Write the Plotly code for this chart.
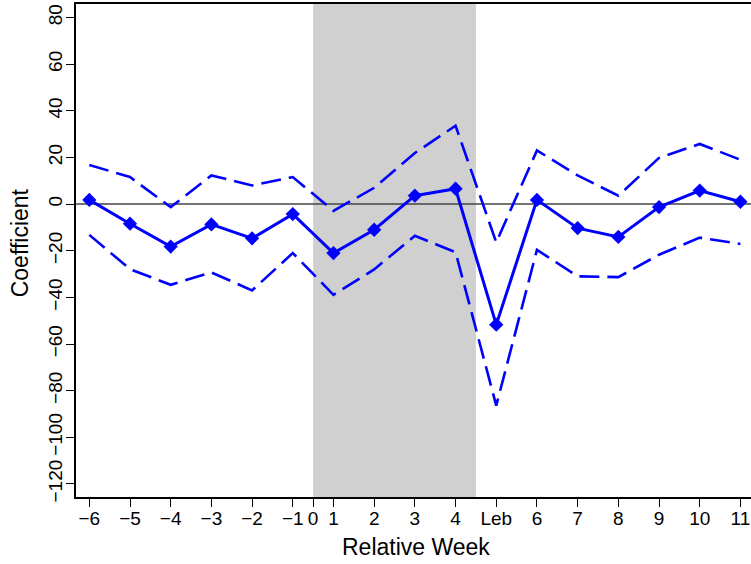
import plotly.graph_objects as go

# ---- data ----
week_labels = ["\u22126", "\u22125", "\u22124", "\u22123", "\u22122", "\u22121",
               "1", "2", "3", "4", "Leb", "6", "7", "8", "9", "10", "11"]
coef = [1.8, -8.4, -18.2, -8.7, -14.7, -4.3, -21.0, -11.0, 3.6, 6.6,
        -51.7, 1.8, -10.3, -14.1, -1.3, 5.8, 1.0]
upper = [16.8, 11.6, -1.3, 12.3, 8.0, 11.6, -2.9, 7.0, 21.9, 33.6,
         -16.4, 23.0, 12.3, 3.6, 19.8, 25.8, 19.0]
lower = [-13.2, -27.9, -34.6, -29.3, -37.0, -21.0, -38.9, -28.0, -13.6, -20.6,
         -86.4, -19.6, -31.0, -31.3, -21.7, -14.4, -17.1]
zero_tick_label = "0"
zero_tick_pos = 5.5          # between week -1 and week 1
shade_start, shade_end = 5.5, 9.5
y_ticks = [-120, -100, -80, -60, -40, -20, 0, 20, 40, 60, 80]

x = list(range(len(week_labels)))

BLUE = "#0000FF"
FONT = "Liberation Sans, Arial, Helvetica, sans-serif"

fig = go.Figure()
fig.add_trace(go.Scatter(x=x, y=upper, mode="lines",
                         line=dict(color=BLUE, width=2.6, dash="20px,8px"),
                         hoverinfo="skip", showlegend=False))
fig.add_trace(go.Scatter(x=x, y=lower, mode="lines",
                         line=dict(color=BLUE, width=2.6, dash="20px,8px"),
                         hoverinfo="skip", showlegend=False))
fig.add_trace(go.Scatter(x=x, y=coef, mode="lines+markers",
                         line=dict(color=BLUE, width=3),
                         marker=dict(symbol="diamond", size=11, color=BLUE),
                         showlegend=False))

# shaded period and zero line
fig.add_shape(type="rect", xref="x", yref="paper", x0=shade_start, x1=shade_end,
              y0=0, y1=1, fillcolor="#D0D0D0", line=dict(width=0), layer="below")
fig.add_shape(type="line", xref="paper", yref="y", x0=0, x1=1, y0=0, y1=0,
              line=dict(color="#444444", width=1.5), layer="below")

tickvals = x[:6] + [zero_tick_pos] + x[6:]
ticktext = week_labels[:6] + [zero_tick_label] + week_labels[6:]

fig.update_layout(
    width=751, height=564,
    margin=dict(l=76, r=0, t=4, b=67),
    paper_bgcolor="white", plot_bgcolor="white",
    font=dict(family=FONT, color="black", size=19),
    xaxis=dict(range=[-0.327, 16.26], tickvals=tickvals, ticktext=ticktext,
               showgrid=False, zeroline=False, showline=True, mirror=True,
               linecolor="black", linewidth=1.5, ticks="outside", ticklen=8,
               tickwidth=1.3, tickcolor="black", tickangle=0,
               ticklabelstandoff=-5,
               tickfont=dict(size=19, family=FONT, color="black")),
    yaxis=dict(range=[-125.6, 85.8], tickvals=y_ticks,
               ticktext=[str(v).replace("-", "\u2212") for v in y_ticks],
               showgrid=False, zeroline=False, showline=True,
               linecolor="black", linewidth=1.5, ticks="outside", ticklen=8,
               tickwidth=1.3, tickcolor="black", tickangle=-90,
               ticklabelstandoff=-3,
               tickfont=dict(size=19, family=FONT, color="black")),
    annotations=[
        dict(text="Relative Week", xref="paper", yref="paper", x=0.503, y=-0.1008,
             xanchor="center", yanchor="middle", showarrow=False,
             font=dict(size=23, family=FONT, color="black")),
        dict(text="Coefficient", xref="paper", yref="paper", x=-0.083, y=0.5166,
             xanchor="center", yanchor="middle", textangle=-90, showarrow=False,
             font=dict(size=23, family=FONT, color="black")),
    ],
)

fig.write_html("out.html")
